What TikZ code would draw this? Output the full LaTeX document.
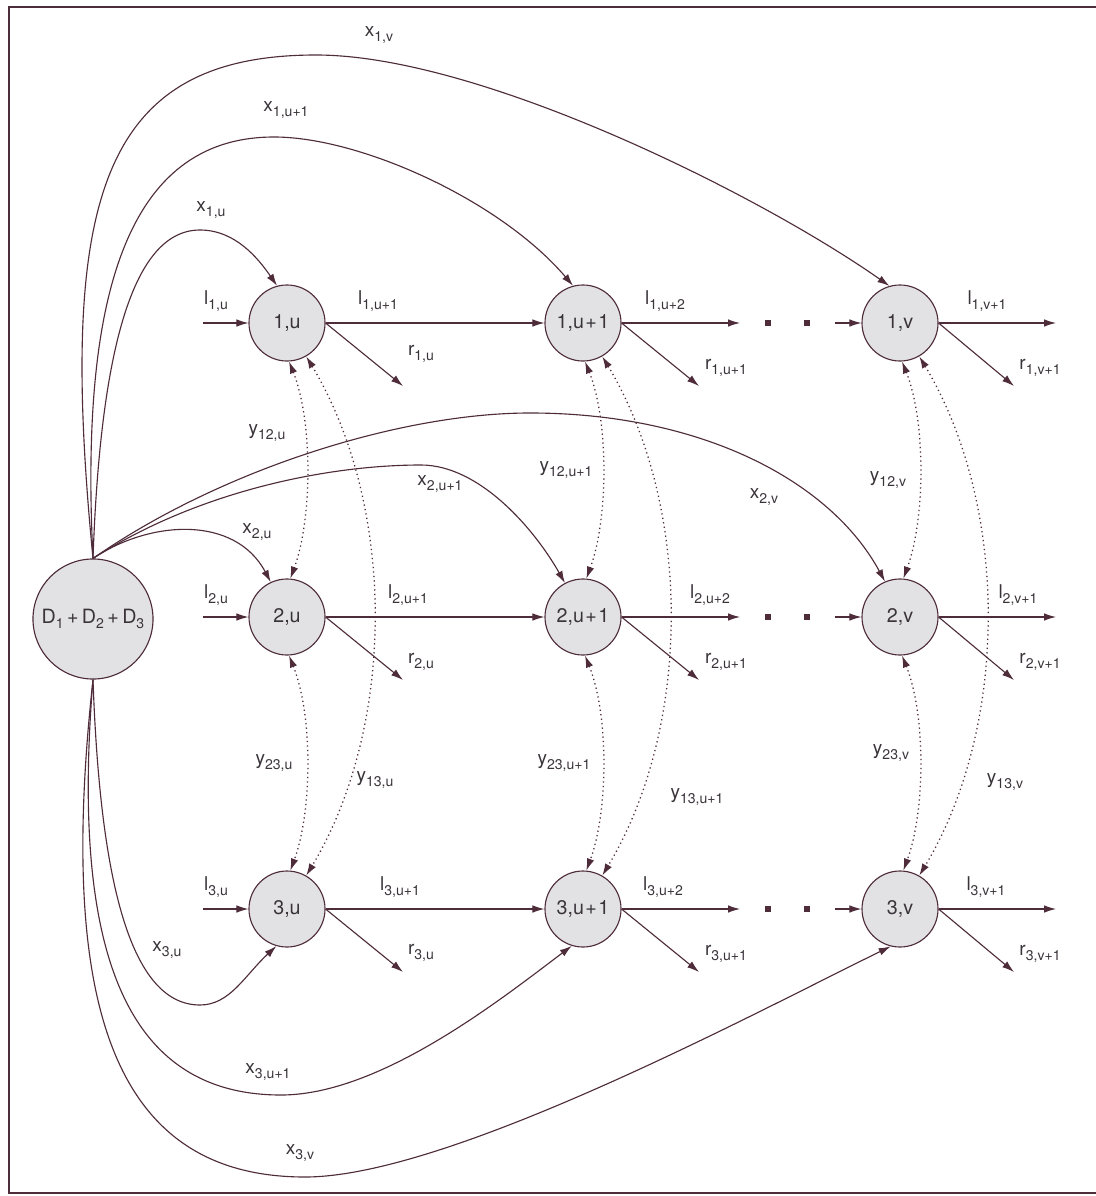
\documentclass[tikz,border=0pt]{standalone}
\usepackage{fontspec}
\setmainfont{TeX Gyre Heros}
\usetikzlibrary{arrows.meta}
\definecolor{ink}{RGB}{78,44,58}
\definecolor{disc}{RGB}{226,226,229}
\definecolor{txt}{RGB}{58,52,58}
\tikzset{
  >={Latex[length=3mm,width=1.9mm]},
  station/.style={circle,draw=ink,fill=disc,line width=0.8pt,minimum size=1.9cm,
    inner sep=0pt,font=\fontsize{14}{16}\selectfont,text=txt},
  flow/.style={->,line width=0.8pt,draw=ink},
  trade/.style={<->,line width=0.9pt,draw=ink,dash pattern=on 0.9pt off 2.3pt},
  tag/.style={font=\fontsize{13.5}{15}\selectfont,text=txt,inner sep=0pt},
}
\newcommand{\lbl}[2]{#1\raisebox{-3.2pt}{\fontsize{10}{11}\selectfont#2}}
\newcommand{\pl}{\kern2.4pt+\kern2.4pt}
\newcommand{\ps}{\kern1pt+\kern1pt}

\begin{document}
\begin{tikzpicture}[x=0.025cm,y=-0.025cm]
  \fill[white] (0,0) rectangle (1096,1196);
  \useasboundingbox (0,0) rectangle (1096,1196);
  \draw[ink,line width=0.8pt] (1096,7) -- (9,7) -- (9,1193) -- (1096,1193);

  \node[station,minimum size=3cm] (D) at (93,619) {\lbl{D}{1}\pl\lbl{D}{2}\pl\lbl{D}{3}};

  % one row per facility type
  \foreach \i/\y/\la/\lb/\lc/\rr in {1/323/378/665/987/31, 2/617/408/710/1018/45, 3/909/400/663/986/44} {
    \node[station] (n\i u) at (287,\y) {\i,u};
    \node[station] (n\i w) at (583,\y) {\i,u\ps1};
    \node[station] (n\i v) at (900,\y) {\i,v};
    \coordinate (a\i) at (203,\y);
    \coordinate (b\i) at (740,\y);
    \coordinate (c\i) at (835,\y);
    \coordinate (e\i) at (1056,\y);
    \coordinate (ru\i) at (403,\y+63);
    \coordinate (rw\i) at (699,\y+63);
    \coordinate (rv\i) at (1014,\y+63);
    \draw[flow] (a\i) -- (n\i u);
    \draw[flow] (n\i u) -- (n\i w);
    \draw[flow] (n\i w) -- (b\i);
    \draw[flow] (c\i) -- (n\i v);
    \draw[flow] (n\i v) -- (e\i);
    \draw[flow] (n\i u.east) -- (ru\i);
    \draw[flow] (n\i w.east) -- (rw\i);
    \draw[flow] (n\i v.east) -- (rv\i);
    \foreach \d in {768,807} \fill[ink] (\d-3.2,\y-3.2) rectangle (\d+3.2,\y+3.2);
    \node[tag] at (216,\y-22) {\lbl{l}{\i,u}};
    \node[tag] at (\la,\y-22) {\lbl{l}{\i,u+1}};
    \node[tag] at (\lb,\y-22) {\lbl{l}{\i,u+2}};
    \node[tag] at (\lc,\y-22) {\lbl{l}{\i,v+1}};
    \node[tag] at (421,\y+\rr) {\lbl{r}{\i,u}};
    \node[tag] at (726,\y+45) {\lbl{r}{\i,u+1}};
    \node[tag] at (1040,\y+45) {\lbl{r}{\i,v+1}};
  }

  % conversions between types
  \foreach \c in {u,w,v} {
    \draw[trade] (n1\c.273) .. controls +(24,60) and +(22,-60) .. (n2\c.85);
    \draw[trade] (n2\c.273) .. controls +(24,60) and +(22,-60) .. (n3\c.85);
    \draw[trade] (n1\c.300) .. controls +(90,150) and +(90,-150) .. (n3\c.60);
  }
  \node[tag] at (267,433) {\lbl{y}{12,u}};
  \node[tag] at (274,763) {\lbl{y}{23,u}};
  \node[tag] at (375,780) {\lbl{y}{13,u}};
  \node[tag] at (566,470) {\lbl{y}{12,u+1}};
  \node[tag] at (564,763) {\lbl{y}{23,u+1}};
  \node[tag] at (697,797) {\lbl{y}{13,u+1}};
  \node[tag] at (888,480) {\lbl{y}{12,v}};
  \node[tag] at (891,753) {\lbl{y}{23,v}};
  \node[tag] at (1005,782) {\lbl{y}{13,v}};

  % expansions from the source, upper fan
  \draw[flow] (D.north) .. controls (100,360) and (130,230) .. (200,230)
    .. controls (235,230) and (258,258) .. (n1u.105);
  \draw[flow] (D.north) .. controls (80,300) and (125,137) .. (274,137)
    .. controls (360,137) and (500,200) .. (n1w.105);
  \draw[flow] (D.north) .. controls (58,200) and (100,55) .. (316,55)
    .. controls (480,55) and (760,195) .. (n1v.106);
  % middle row
  \draw[flow] (D.north) .. controls (150,520) and (235,515) .. (n2u.115);
  \draw[flow] (D.north) .. controls (200,490) and (330,465) .. (421,465)
    .. controls (480,465) and (535,530) .. (n2w.118);
  \draw[flow] (D.north) .. controls (220,470) and (400,413) .. (530,413)
    .. controls (700,413) and (830,480) .. (n2v.113);
  % lower fan
  \draw[flow] (D.south) .. controls (100,880) and (130,1005) .. (200,1005)
    .. controls (230,1005) and (245,975) .. (n3u.254);
  \draw[flow] (D.south) .. controls (70,960) and (130,1095) .. (281,1095)
    .. controls (380,1095) and (500,1000) .. (n3w.253);
  \draw[flow] (D.south) .. controls (58,1000) and (110,1177) .. (305,1177)
    .. controls (450,1177) and (760,1010) .. (n3v.256);

  \node[tag] at (379,35) {\lbl{x}{1,v}};
  \node[tag] at (286,110) {\lbl{x}{1,u+1}};
  \node[tag] at (211,210) {\lbl{x}{1,u}};
  \node[tag] at (257,532) {\lbl{x}{2,u}};
  \node[tag] at (440,484) {\lbl{x}{2,u+1}};
  \node[tag] at (764,497) {\lbl{x}{2,v}};
  \node[tag] at (167,950) {\lbl{x}{3,u}};
  \node[tag] at (268,1072) {\lbl{x}{3,u+1}};
  \node[tag] at (300,1153) {\lbl{x}{3,v}};
\end{tikzpicture}
\end{document}
